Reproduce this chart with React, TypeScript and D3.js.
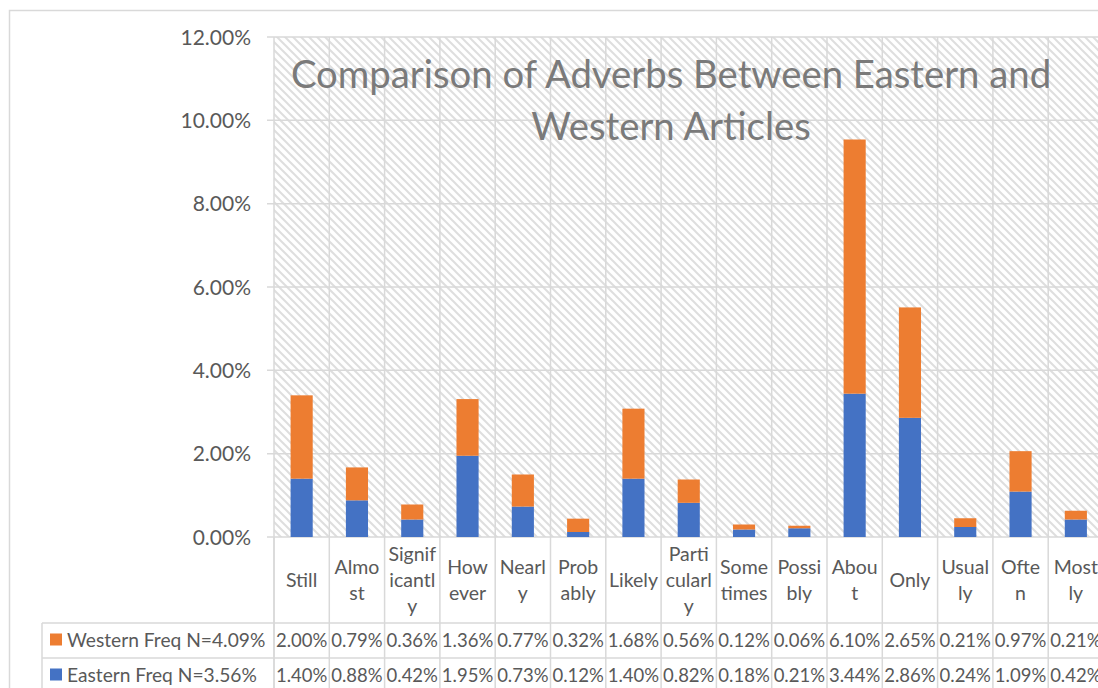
import React from "react";
import * as d3 from "d3";

const categories = ["Still","Almost","Significantly","However","Nearly","Probably","Likely","Particularly","Sometimes","Possibly","About","Only","Usually","Often","Mostly"];
const categoryLabelLines = [["Still"],["Almo","st"],["Signif","icantl","y"],["How","ever"],["Nearl","y"],["Prob","ably"],["Likely"],["Parti","cularl","y"],["Some","times"],["Possi","bly"],["Abou","t"],["Only"],["Usual","ly"],["Ofte","n"],["Most","ly"]];
const easternValues = [1.40,0.88,0.42,1.95,0.73,0.12,1.40,0.82,0.18,0.21,3.44,2.86,0.24,1.09,0.42];
const westernValues = [2.00,0.79,0.36,1.36,0.77,0.32,1.68,0.56,0.12,0.06,6.10,2.65,0.21,0.97,0.21];
const seriesNames = ["Western Freq N=4.09%","Eastern Freq N=3.56%"];
const yTicks = [0,2,4,6,8,10,12];
const titleLines = ["Comparison of Adverbs Between Eastern and","Western Articles"];

const BLUE = "#4472C4";
const ORANGE = "#ED7D31";
const GRID = "#d9d9d9";
const TEXT = "#595959";
const FONT = "Lato, 'Open Sans', sans-serif";

export default function App() {
  const W = 1098, H = 688;
  const left = 274, top = 37, bottom = 537;
  const colW = 55.3;
  const x = d3.scaleBand<string>().domain(categories).range([left, left + colW * categories.length]).padding(0);
  const y = d3.scaleLinear().domain([0, 12]).range([bottom, top]);
  const barW = x.bandwidth() * 0.4;
  const right = left + colW * categories.length;
  const row1 = 623, row2 = 658, row3 = 693;
  const fmt = (v: number) => v.toFixed(2) + "%";

  const stack = d3.stack<any>().keys(["eastern", "western"])(
    categories.map((c, i) => ({ cat: c, eastern: easternValues[i], western: westernValues[i] }))
  );
  const colors = [BLUE, ORANGE];

  return (
    <svg width={W} height={H} style={{ position: "absolute", left: 0, top: 0, background: "#fff" }} fontFamily={FONT}>
      <defs>
        <pattern id="hatch" patternUnits="userSpaceOnUse" width={8} height={8}>
          <rect width={8} height={8} fill="#fff" />
          <path d="M-2,-2 L10,10 M-2,6 L2,10 M6,-2 L10,2" stroke="#dedede" strokeWidth={2} />
        </pattern>
      </defs>
      <rect x={0} y={0} width={W} height={H} fill="#fff" />
      <rect x={9.5} y={10.5} width={W + 20} height={H + 20} fill="none" stroke={GRID} strokeWidth={1.5} />
      {/* plot area hatch */}
      <rect x={left} y={top} width={right - left} height={bottom - top} fill="url(#hatch)" />
      {/* horizontal gridlines + ticks */}
      {yTicks.map((t) => (
        <line key={"h" + t} x1={267} x2={right} y1={y(t)} y2={y(t)} stroke={GRID} strokeWidth={1.5} />
      ))}
      {/* vertical gridlines through plot, labels and table */}
      {categories.map((c) => (
        <line key={"v" + c} x1={x(c)!} x2={x(c)!} y1={top} y2={H} stroke={GRID} strokeWidth={1.5} />
      ))}
      <line x1={right} x2={right} y1={top} y2={H} stroke={GRID} strokeWidth={1.5} />
      {/* title */}
      {titleLines.map((t, i) => (
        <text key={"t" + i} x={671} y={88 + i * 52} textAnchor="middle" fontSize={38.3} fill="#7a7a7a">{t}</text>
      ))}
      {/* bars */}
      {stack.map((s, si) =>
        s.map((d, i) => (
          <rect key={si + "-" + i} x={x(categories[i])! + (x.bandwidth() - barW) / 2} y={y(d[1])} width={barW} height={y(d[0]) - y(d[1])} fill={colors[si]} />
        ))
      )}
      {/* y axis labels */}
      {yTicks.map((t) => (
        <text key={"yl" + t} x={251} y={y(t)} dy="0.36em" textAnchor="end" fontSize={21} fill={TEXT}>{t.toFixed(2) + "%"}</text>
      ))}
      {/* category labels */}
      {categoryLabelLines.map((lines, i) => (
        <text key={"cl" + i} textAnchor="middle" fontSize={19.5} fill={TEXT}>
          {lines.map((ln, j) => (
            <tspan key={j} x={x(categories[i])! + x.bandwidth() / 2} y={587 + (j - (lines.length - 1) / 2) * 26}>{ln}</tspan>
          ))}
        </text>
      ))}
      {/* data table */}
      <line x1={42} x2={right} y1={row1} y2={row1} stroke={GRID} strokeWidth={1.5} />
      <line x1={42} x2={right} y1={row2} y2={row2} stroke={GRID} strokeWidth={1.5} />
      <line x1={42} x2={right} y1={row3} y2={row3} stroke={GRID} strokeWidth={1.5} />
      <line x1={42} x2={42} y1={row1} y2={H} stroke={GRID} strokeWidth={1.5} />
      <line x1={left} x2={left} y1={bottom} y2={H} stroke={GRID} strokeWidth={1.5} />
      {[westernValues, easternValues].map((vals, r) => {
        const cy = r === 0 ? (row1 + row2) / 2 : (row2 + row3) / 2;
        return (
          <g key={"row" + r}>
            <rect x={50} y={cy - 7} width={12} height={12} fill={r === 0 ? ORANGE : BLUE} />
            <text x={67} y={cy} dy="0.36em" fontSize={19.2} fill={TEXT}>{seriesNames[r]}</text>
            {vals.map((v, i) => (
              <text key={i} x={x(categories[i])! + x.bandwidth() / 2} y={cy} dy="0.36em" textAnchor="middle" fontSize={18.5} fill={TEXT}>{fmt(v)}</text>
            ))}
          </g>
        );
      })}
    </svg>
  );
}
